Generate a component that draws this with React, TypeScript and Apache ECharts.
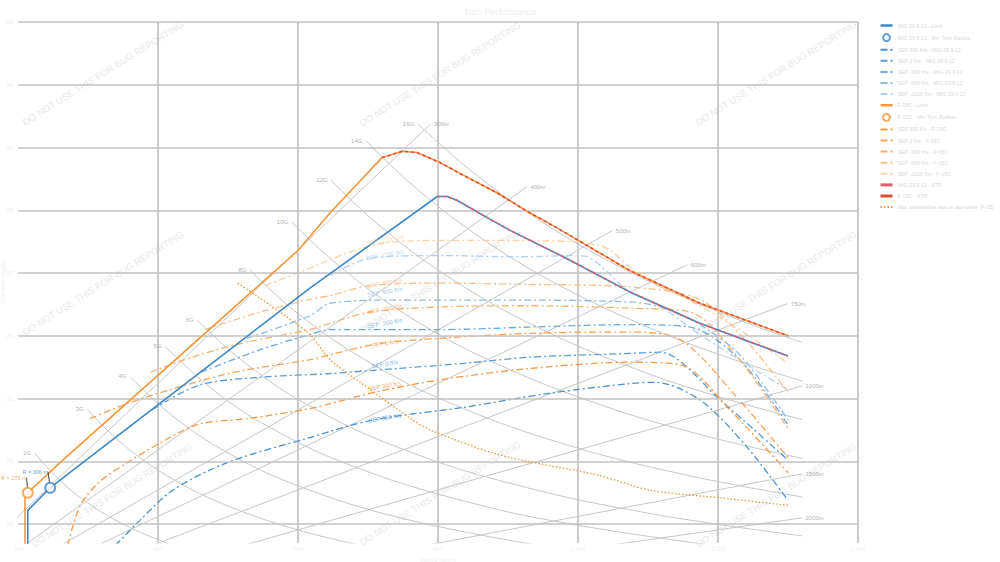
import React, { useEffect, useRef } from "react";
import * as echarts from "echarts";

// ---------- data (speed km/h, turn rate deg/s) ----------
const chartTitle = "Turn Performance";
const rateGridValues = [10, 15, 20, 25, 30, 35, 40, 45, 50];

const migLimit = [[214, 5], [214, 11.1], [246, 12.9], [260, 13.5], [617, 28.8], [799, 36.1], [813, 36.1], [827, 35.8], [874, 34.3], [903, 33.4], [979, 31.3], [1074, 28.5], [1174, 26.0], [1300, 23.4]];
const migStr = [[799, 36.1], [813, 36.1], [827, 35.8], [874, 34.3], [903, 33.4], [979, 31.3], [1074, 28.5], [1174, 26.0], [1300, 23.4]];
const f15Limit = [[210, 5], [210, 12.1], [214, 12.5], [260, 14.9], [600, 31.8], [646, 34.8], [720, 39.2], [749, 39.7], [770, 39.6], [803, 38.8], [836, 37.8], [884, 36.4], [931, 34.8], [970, 33.6], [1074, 30.2], [1174, 27.6], [1300, 25.0]];
const f15Str = [[720, 39.2], [749, 39.7], [770, 39.6], [803, 38.8], [836, 37.8], [884, 36.4], [931, 34.8], [970, 33.6], [1074, 30.2], [1174, 27.6], [1300, 25.0]];

const migMinRadius = [[246, 12.9]];
const f15MinRadius = [[214, 12.5]];

const migSep300 = [[339, 8.3], [374, 10.3], [421, 12.7], [499, 14.9], [617, 16.9], [707, 18.3], [836, 19.3], [956, 20.4], [1074, 21.2], [1110, 21.3], [1174, 19.9], [1239, 16.3], [1300, 11.9]];
const migSep0 = [[391, 19.1], [460, 21.1], [546, 21.7], [646, 22.0], [741, 22.4], [836, 22.8], [931, 23.3], [1074, 23.6], [1117, 23.7], [1203, 19.9], [1300, 15.1]];
const migSepM300 = [[461, 22.1], [546, 23.9], [617, 25.1], [646, 25.5], [803, 25.5], [931, 25.7], [1074, 25.9], [1160, 25.7], [1231, 23.1], [1300, 17.9]];
const migSepM600 = [[527, 24.8], [617, 26.6], [646, 27.6], [741, 27.85], [884, 27.85], [1074, 27.7], [1124, 27.2], [1174, 25.9], [1231, 23.5], [1300, 18.3]];
const migSepM1200 = [[646, 29.8], [703, 31.2], [803, 31.4], [913, 31.3], [1003, 31.4], [1074, 28.5], [1117, 27.4], [1174, 25.1], [1300, 20.7]];

const f15Sep300 = [[271, 8.3], [289, 11.5], [317, 13.4], [356, 14.9], [417, 16.9], [460, 18.0], [527, 18.4], [617, 19.2], [646, 19.6], [717, 20.6], [803, 21.5], [931, 22.4], [1074, 22.9], [1146, 22.7], [1217, 19.1], [1300, 14.1]];
const f15Sep0 = [[303, 18.4], [360, 19.7], [417, 20.7], [479, 21.7], [527, 22.3], [617, 23.1], [646, 23.5], [717, 24.4], [803, 24.8], [931, 25.2], [1074, 25.3], [1146, 24.7], [1224, 20.3], [1300, 15.3]];
const f15SepM300 = [[389, 22.1], [460, 23.5], [527, 24.5], [617, 25.5], [646, 26.0], [703, 26.9], [803, 27.3], [931, 27.4], [1074, 27.2], [1160, 26.9], [1231, 23.1], [1300, 17.6]];
const f15SepM600 = [[467, 25.5], [546, 26.9], [617, 27.9], [646, 28.2], [703, 29.0], [803, 29.2], [931, 29.1], [1074, 28.9], [1174, 27.9], [1239, 24.7], [1300, 20.5]];
const f15SepM1200 = [[553, 29.0], [617, 30.4], [670, 31.6], [724, 32.4], [803, 32.6], [913, 32.6], [1031, 32.2], [1089, 29.8], [1174, 27.4], [1239, 25.2], [1300, 22.8]];

const f15MaxSustained = [[514, 29.2], [560, 27.45], [617, 25.1], [646, 23.1], [689, 21.3], [764, 18.3], [789, 17.5], [889, 15.5], [1029, 13.9], [1103, 12.7], [1203, 12.1], [1300, 11.5]];

const sepLabelText = ["SEP 300 ft/s", "SEP 0 ft/s", "SEP -300 ft/s", "SEP -600 ft/s", "SEP -1200 ft/s"];
const migSepLabelAt = [[724, 18.45], [724, 22.75], [724, 26.0], [724, 28.49], [724, 31.43]];
const f15SepLabelAt = [[724, 21.0], [724, 24.4], [724, 27.13], [724, 29.2], [724, 32.63]];

// load-factor reference lines
const gLabels = ["2G", "3G", "4G", "5G", "6G", "8G", "10G", "12G", "14G", "16G"];
const gLinePoints = [
  [[224, 15.65], [260, 13.48], [300, 11.68], [350, 10.01], [412, 8.5], [450, 7.79]],
  [[299, 19.14], [350, 16.35], [420, 13.63], [500, 11.45], [600, 9.54], [700, 8.18]],
  [[360, 21.77], [420, 18.66], [500, 15.67], [600, 13.06], [750, 10.45], [950, 8.25]],
  [[410, 24.18], [480, 20.65], [560, 17.7], [680, 14.58], [850, 11.66], [1000, 9.91], [1200, 8.26]],
  [[456, 26.25], [530, 22.59], [620, 19.31], [740, 16.18], [900, 13.3], [1100, 10.88], [1320, 9.07]],
  [[531, 30.25], [600, 26.77], [700, 22.95], [820, 19.59], [980, 16.39], [1150, 13.97], [1320, 12.17]],
  [[591, 34.07], [660, 30.51], [760, 26.49], [880, 22.88], [1030, 19.55], [1180, 17.06], [1320, 15.25]],
  [[647, 37.4], [720, 33.61], [820, 29.51], [940, 25.74], [1080, 22.41], [1200, 20.17], [1320, 18.33]],
  [[697, 40.54], [770, 36.7], [870, 32.48], [980, 28.83], [1100, 25.69], [1210, 23.35], [1320, 21.41]],
  [[771, 41.91], [850, 38.02], [950, 34.02], [1050, 30.78], [1150, 28.1], [1240, 26.06], [1320, 24.48]],
];

// turn-radius reference lines (from origin to end point)
const radiusLabels = ["300m", "400m", "500m", "600m", "750m", "1000m", "1500m", "2000m"];
const radiusEnds = [[789, 41.86], [927, 36.88], [1049, 33.39], [1156, 30.66], [1299, 27.56], [1320, 21.01], [1320, 14.01], [1320, 10.5]];

// ---------- styles ----------
const FONT = "Liberation Sans, Arial, sans-serif";
const migBlue = "#3f88c5";
const f15Orange = "#f7963a";
const migSepColors = ["#4c91cf", "#5b9bd5", "#6fa7da", "#8fbce4", "#b0d0ee"];
const f15SepColors = ["#f79a45", "#f8a352", "#f9b26c", "#fbc08a", "#fccfa4"];
const dashDot = [7, 3, 2, 3];
const refGray = "#c6c6c6";

function buildOption() {
  const series: any[] = [];
  const legendData: any[] = [];

  series.push({
    type: "line",
    data: [],
    silent: true,
    z: 1,
    markLine: {
      silent: true,
      symbol: ["none", "none"],
      lineStyle: { color: "#c2c2c2", width: 1.5, type: "solid" },
      label: { show: true, position: "start", color: "#eeeeee", fontSize: 6, formatter: "{c}" },
      data: rateGridValues.map((v) => ({ yAxis: v })),
    },
  });

  gLinePoints.forEach((pts) => {
    series.push({ type: "line", data: pts, symbol: "none", smooth: 0.4, silent: true, z: 2, lineStyle: { color: refGray, width: 1 } });
  });
  radiusEnds.forEach((end) => {
    series.push({ type: "line", data: [[0, 0], end], symbol: "none", silent: true, z: 2, lineStyle: { color: refGray, width: 1 } });
  });
  series.push({
    type: "scatter",
    silent: true,
    z: 3,
    symbolSize: 1,
    itemStyle: { color: "transparent" },
    data: gLinePoints.map((pts, i) => [pts[0][0], pts[0][1], gLabels[i]]),
    label: { show: true, position: "left", distance: 3, color: "#9a9a9a", fontSize: 6, fontFamily: FONT, formatter: (p: any) => p.value[2] },
  });
  series.push({
    type: "scatter",
    silent: true,
    z: 3,
    symbolSize: 1,
    itemStyle: { color: "transparent" },
    data: radiusEnds.map((e, i) => [e[0], e[1], radiusLabels[i]]),
    label: { show: true, position: "right", distance: 3, color: "#9a9a9a", fontSize: 6, fontFamily: FONT, formatter: (p: any) => p.value[2] },
  });

  const addLine = (name: string, data: number[][], color: string, type: any, width: number, z: number, smooth: number | boolean, legendLine?: any) => {
    series.push({ type: "line", name, data, symbol: "none", smooth, z, lineStyle: { color, width, type }, itemStyle: { color } });
    const item: any = { name, itemStyle: { opacity: 0 } };
    if (legendLine) item.lineStyle = legendLine;
    legendData.push(item);
  };
  const addMarker = (name: string, data: number[][], color: string, text: string, dx: number, dy: number) => {
    series.push({
      type: "scatter",
      name,
      data,
      z: 9,
      symbol: "emptyCircle",
      symbolSize: 10,
      itemStyle: { color, borderColor: color, borderWidth: 1.5 },
      label: { show: true, position: "inside", formatter: text, color, fontSize: 5.5, fontFamily: FONT },
      labelLayout: { dx, dy },
      labelLine: { show: true, lineStyle: { color: "#444", width: 1 } },
    });
    legendData.push({ name });
  };

  const migSeps = [migSep300, migSep0, migSepM300, migSepM600, migSepM1200];
  const f15Seps = [f15Sep300, f15Sep0, f15SepM300, f15SepM600, f15SepM1200];

  addLine("MiG-29 9.12 - Limit", migLimit, migBlue, "solid", 1.6, 6, false, { width: 2.5 });
  addMarker("MiG-29 9.12 - Min Turn Radius", migMinRadius, migBlue, "R = 306 m", -15, -16);
  migSeps.forEach((d, i) => addLine(`${sepLabelText[i]} - MiG-29 9.12`, d, migSepColors[i], dashDot, 1.3, 4, 0.3));
  addLine("F-15C - Limit", f15Limit, f15Orange, "solid", 1.6, 6, false, { width: 2.5 });
  addMarker("F-15C - Min Turn Radius", f15MinRadius, f15Orange, "R = 275 m", -14, -15);
  f15Seps.forEach((d, i) => addLine(`${sepLabelText[i]} - F-15C`, d, f15SepColors[i], dashDot, 1.3, 4, 0.3));
  addLine("MiG-29 9.12 - STR", migStr, "#e06070", [3, 3], 1.6, 7, false, { type: "solid", width: 3 });
  addLine("F-15C - STR", f15Str, "#e04a3a", [3, 3], 1.6, 7, false, { type: "solid", width: 3 });
  addLine("Max sustainable rate on ace curve (F-15)", f15MaxSustained, f15Orange, [1.5, 2], 1.3, 5, 0.3);

  const sepLabelSeries = (pts: number[][], colors: string[]) => ({
    type: "scatter",
    silent: true,
    z: 8,
    symbolSize: 1,
    itemStyle: { color: "transparent" },
    data: pts.map((p, i) => ({
      value: [p[0], p[1], sepLabelText[i]],
      label: { color: colors[i] },
    })),
    label: { show: true, position: "inside", rotate: 10, fontSize: 6, fontFamily: FONT, formatter: (p: any) => p.value[2] },
  });
  series.push(sepLabelSeries(migSepLabelAt, migSepColors));
  series.push(sepLabelSeries(f15SepLabelAt, f15SepColors));

  const wmCenters = [[103, 73], [440, 74], [776, 73], [103, 283], [440, 281], [776, 283], [112, 495], [440, 493], [776, 495]];

  return {
    animation: false,
    textStyle: { fontFamily: FONT },
    title: { text: chartTitle, left: "center", top: 2, textStyle: { color: "#eeeeee", fontSize: 9, fontWeight: "normal", fontFamily: FONT } },
    grid: { left: 18, right: 142, top: 22, bottom: 19, containLabel: false, outerBoundsMode: "none" },
    legend: {
      orient: "vertical",
      left: 874,
      top: 17,
      itemWidth: 12,
      itemHeight: 7,
      itemGap: 4.1,
      data: legendData,
      textStyle: { color: "#d8d8d8", fontSize: 5.3, lineHeight: 7, fontFamily: FONT },
    },
    xAxis: {
      type: "value",
      min: 200,
      max: 1400,
      interval: 200,
      name: "Speed (km/h)",
      nameLocation: "middle",
      nameGap: 12,
      nameTextStyle: { color: "#f2f2f2", fontSize: 6 },
      axisLine: { show: false },
      axisTick: { show: false },
      axisLabel: { color: "#f2f2f2", fontSize: 6, margin: 3 },
      splitLine: { show: true, showMinLine: false, lineStyle: { color: "#b9b9b9", width: 1.5 } },
    },
    yAxis: {
      type: "value",
      min: 8.5,
      max: 50,
      name: "Turn rate (deg/s)",
      nameLocation: "middle",
      nameGap: 12,
      nameTextStyle: { color: "#eeeeee", fontSize: 6 },
      axisLine: { show: false },
      axisTick: { show: false },
      axisLabel: { show: false },
      splitLine: { show: false },
    },
    graphic: wmCenters.map((c) => ({
      type: "text",
      x: c[0],
      y: c[1],
      rotation: (32 * Math.PI) / 180,
      silent: true,
      z: 0,
      style: { text: "DO NOT USE THIS FOR BUG REPORTING", fill: "#e9e9e9", fontSize: 9.5, fontFamily: FONT, align: "center", verticalAlign: "middle" },
    })),
    series,
  };
}

export default function App() {
  const ref = useRef<HTMLDivElement>(null);
  useEffect(() => {
    if (!ref.current) return;
    const chart = echarts.init(ref.current, undefined, { renderer: "svg" });
    chart.setOption(buildOption() as any);
    return () => chart.dispose();
  }, []);
  return <div ref={ref} style={{ position: "fixed", left: 0, top: 0, width: 1000, height: 562, background: "#ffffff" }} />;
}
